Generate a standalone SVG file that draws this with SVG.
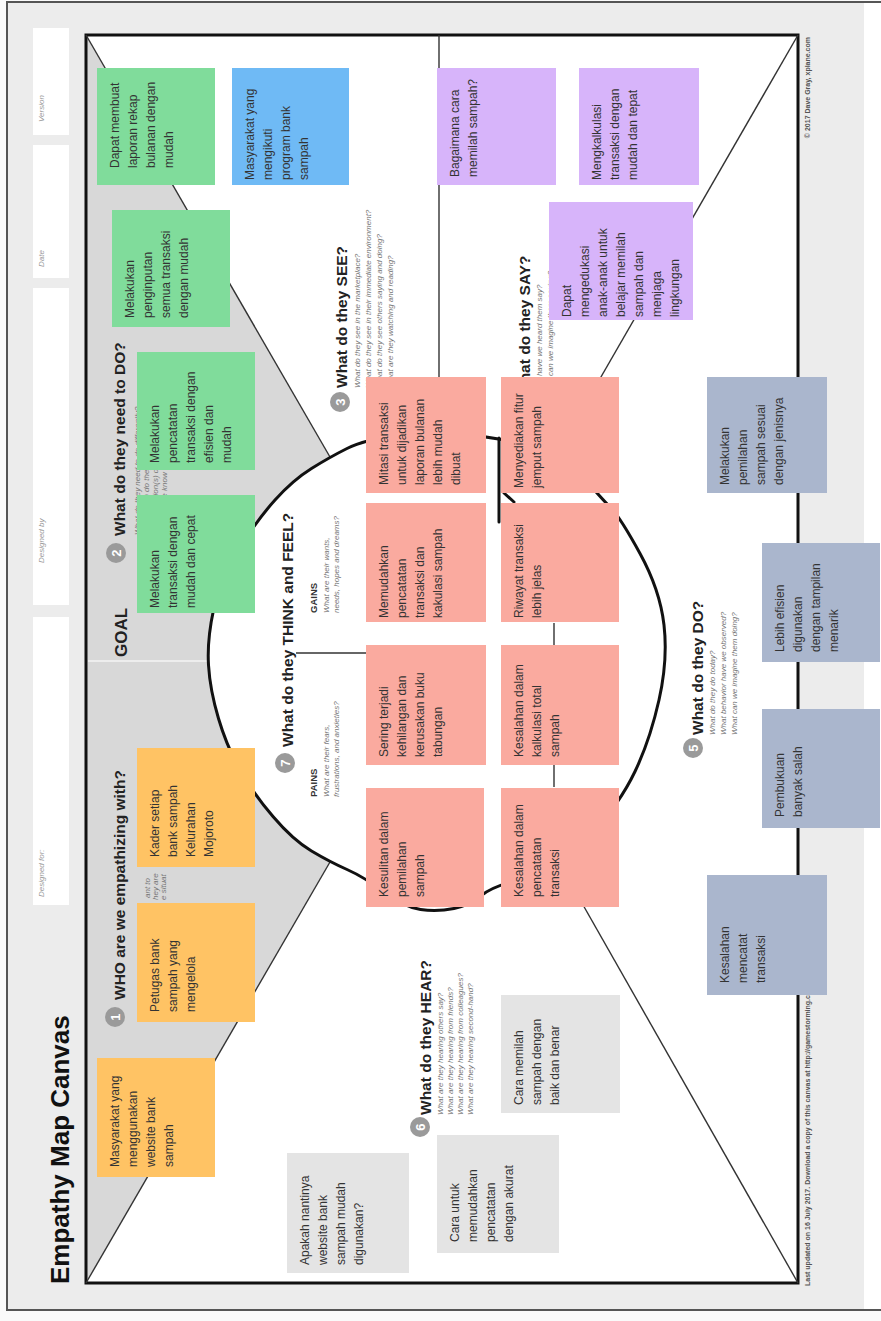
<svg xmlns="http://www.w3.org/2000/svg" width="881" height="1321" viewBox="0 0 881 1321">
<style>
.st{font-family:"Liberation Sans",Arial,sans-serif;font-size:12px;fill:#333}
.hd{font-family:"Liberation Sans",Arial,sans-serif;font-weight:bold;font-size:15.5px;fill:#222}
.sm{font-family:"Liberation Sans",Arial,sans-serif;font-style:italic;font-size:8px;fill:#777}
.lb{font-family:"Liberation Sans",Arial,sans-serif;font-style:italic;font-size:8px;fill:#999}
.pg{font-family:"Liberation Sans",Arial,sans-serif;font-weight:bold;font-size:9.5px;fill:#333}
.nc{fill:#9a9a9a}
.nt{font-family:"Liberation Sans",Arial,sans-serif;font-weight:bold;font-size:13px;fill:#fff;text-anchor:middle}
.ft{font-family:"Liberation Sans",Arial,sans-serif;font-weight:bold;font-size:7px;fill:#555}
.green{fill:#80dc9b}.blue{fill:#6fbaf5}.purple{fill:#d7b4fa}.orange{fill:#ffc364}.salmon{fill:#faaa9f}.slate{fill:#aab6cd}.grey{fill:#e4e4e4}
.thin{stroke:#333;stroke-width:1.4;fill:none}
.thick{stroke:#111;stroke-width:3;fill:none;stroke-linecap:round;stroke-linejoin:round}
</style>
<rect x="0" y="0" width="881" height="1321" fill="#fafafa"/>
<rect x="7" y="2" width="900" height="1308" fill="#fff" stroke="#555" stroke-width="2"/>
<rect x="8" y="3" width="856" height="1306" fill="#ececec"/>
<g transform="matrix(0 -1 1 0 0 1321)">
  <g id="header">
    <rect x="1186" y="33" width="107" height="36" fill="#fff"/>
    <rect x="1043" y="33" width="133" height="36" fill="#fff"/>
    <rect x="716" y="33" width="317" height="36" fill="#fff"/>
    <rect x="416" y="33" width="288" height="36" fill="#fff"/>
    <text class="lb" x="1199" y="44">Version</text>
    <text class="lb" x="1054" y="44">Date</text>
    <text class="lb" x="758" y="44">Designed by</text>
    <text class="lb" x="424" y="44">Designed for:</text>
    <text x="37" y="69" font-family="Liberation Sans, Arial, sans-serif" font-weight="bold" font-size="26" fill="#111">Empathy Map Canvas</text>
  </g>
  <g id="canvas">
    <rect x="38" y="86" width="1248" height="712" fill="#fff"/>
    <path d="M1286,86 L864,330 L852.5,311.5 Q841,293 821,275 Q801,257 771,238.5 Q741,220 711,213.5 Q681,207 656,208.5 Q631,210 602.5,218.5 Q574,227 551,240 Q528,253 504.5,273 Q481,293 470,311.5 L459,330 L38,86 Z" fill="#d8d8d8"/>
    <rect x="38" y="86" width="1248" height="712" fill="none" stroke="#111" stroke-width="3"/>
  </g>
  <g id="connectors">
    <line class="thin" x1="1286" y1="86" x2="864" y2="330"/>
    <line class="thin" x1="38" y1="86" x2="459" y2="330"/>
    <line class="thin" x1="1286" y1="798" x2="866" y2="556"/>
    <line class="thin" x1="38" y1="798" x2="453" y2="562"/>
    <line class="thin" x1="1286" y1="439" x2="893" y2="439"/>
    <line stroke="#f4f4f4" stroke-width="1.5" x1="660" y1="88" x2="660" y2="208"/>
    <line class="thin" x1="668" y1="296" x2="668" y2="366"/>
    <line class="thin" x1="534" y1="554" x2="698" y2="554"/>
    <path class="thick" d="M882,498.5 Q871,560 847,580.5 Q823,601 813.5,610.5 Q804,620 767.5,640 Q731,660 696,664 Q661,668 621,659 Q581,650 549.5,635 Q518,620 484.5,590 Q451,560 443,526 Q435,492 425.5,481.5 Q416,471 412.5,454 Q409,437 411.5,420.5 Q414,404 429,384 Q444,364 451.5,347 Q459,330 470,311.5 Q481,293 504.5,273 Q528,253 551,240 Q574,227 602.5,218.5 Q631,210 656,208.5 Q681,207 711,213.5 Q741,220 771,238.5 Q801,257 821,275 Q841,293 852.5,311.5 Q864,330 872.5,347 Q881,364 887,400.5 Q893,437 882,498.5 Z"/>
    <path class="thick" d="M883,499 L799,499"/>
    <path class="thick" d="M828,504 L819,514"/>
  </g>
  <g id="labels">
    <text x="664" y="127" font-family="Liberation Sans, Arial, sans-serif" font-weight="bold" font-size="17" fill="#222">GOAL</text>
    <circle class="nc" cx="304" cy="115" r="10"/><text class="nt" x="304" y="120">1</text>
    <text class="hd" x="321" y="125">WHO are we empathizing with?</text>
    <text class="sm" x="423" y="150">ant to</text>
    <text class="sm" x="421" y="158">hey are</text>
    <text class="sm" x="421" y="166">e situat</text>
    <circle class="nc" cx="768" cy="116" r="10"/><text class="nt" x="768" y="121">2</text>
    <text class="hd" x="785" y="125">What do they need to DO?</text>
    <text class="sm" x="786" y="140">What do they need to do differently?</text>
    <text class="sm" x="786" y="149">What job(s) do they want or need to get done?</text>
    <text class="sm" x="786" y="158">What decision(s) do they need to make?</text>
    <text class="sm" x="786" y="167">How will we know they were successful?</text>
    <circle class="nc" cx="919" cy="340" r="10"/><text class="nt" x="919" y="345">3</text>
    <text class="hd" x="933" y="347">What do they SEE?</text>
    <text class="sm" x="933" y="360">What do they see in the marketplace?</text>
    <text class="sm" x="933" y="371">What do they see in their immediate environment?</text>
    <text class="sm" x="933" y="382">What do they see others saying and doing?</text>
    <text class="sm" x="933" y="393">What are they watching and reading?</text>
    <circle class="nc" cx="905" cy="522" r="10"/><text class="nt" x="905" y="527">4</text>
    <text class="hd" x="924" y="530">What do they SAY?</text>
    <text class="sm" x="924" y="542">What have we heard them say?</text>
    <text class="sm" x="924" y="553">What can we imagine them saying?</text>
    <circle class="nc" cx="573" cy="693" r="10"/><text class="nt" x="573" y="698">5</text>
    <text class="hd" x="586" y="703">What do they DO?</text>
    <text class="sm" x="586" y="715">What do they do today?</text>
    <text class="sm" x="586" y="726">What behavior have we observed?</text>
    <text class="sm" x="586" y="737">What can we imagine them doing?</text>
    <circle class="nc" cx="194" cy="420" r="10"/><text class="nt" x="194" y="425">6</text>
    <text class="hd" x="206" y="431">What do they HEAR?</text>
    <text class="sm" x="206" y="443">What are they hearing others say?</text>
    <text class="sm" x="206" y="453">What are they hearing from friends?</text>
    <text class="sm" x="206" y="463">What are they hearing from colleagues?</text>
    <text class="sm" x="206" y="473">What are they hearing second-hand?</text>
    <circle class="nc" cx="558" cy="285" r="10"/><text class="nt" x="558" y="290">7</text>
    <text class="hd" x="574" y="293">What do they THINK and FEEL?</text>
    <text class="pg" x="524" y="317">PAINS</text>
    <text class="sm" x="524" y="329">What are their fears,</text>
    <text class="sm" x="524" y="339">frustrations, and anxieties?</text>
    <text class="pg" x="708" y="317">GAINS</text>
    <text class="sm" x="708" y="329">What are their wants,</text>
    <text class="sm" x="708" y="339">needs, hopes and dreams?</text>
    <text class="ft" x="35" y="810">Last updated on 16 July 2017. Download a copy of this canvas at http://gamestorming.com/empathy-map/</text>
    <text class="ft" x="1284" y="810" text-anchor="end">© 2017 Dave Gray, xplane.com</text>
  </g>
  <g id="g1"><rect class="green" x="1136" y="97" width="117" height="118"/><text class="st" x="1153" y="119"><tspan x="1153">Dapat membuat</tspan><tspan x="1153" dy="18">laporan rekap</tspan><tspan x="1153" dy="18">bulanan dengan</tspan><tspan x="1153" dy="18">mudah</tspan></text></g>
  <g id="g2"><rect class="green" x="994" y="112" width="117" height="118"/><text class="st" x="1003" y="134"><tspan x="1003">Melakukan</tspan><tspan x="1003" dy="18">penginputan</tspan><tspan x="1003" dy="18">semua transaksi</tspan><tspan x="1003" dy="18">dengan mudah</tspan></text></g>
  <g id="g3"><rect class="green" x="851" y="137" width="118" height="118"/><text class="st" x="858" y="159"><tspan x="858">Melakukan</tspan><tspan x="858" dy="18">pencatatan</tspan><tspan x="858" dy="18">transaksi dengan</tspan><tspan x="858" dy="18">efisien dan</tspan><tspan x="858" dy="18">mudah</tspan></text></g>
  <g id="g4"><rect class="green" x="708" y="137" width="118" height="118"/><text class="st" x="713" y="159"><tspan x="713">Melakukan</tspan><tspan x="713" dy="18">transaksi dengan</tspan><tspan x="713" dy="18">mudah dan cepat</tspan></text></g>
  <g id="b1"><rect class="blue" x="1136" y="232" width="117" height="117"/><text class="st" x="1141" y="254"><tspan x="1141">Masyarakat yang</tspan><tspan x="1141" dy="18">mengikuti</tspan><tspan x="1141" dy="18">program bank</tspan><tspan x="1141" dy="18">sampah</tspan></text></g>
  <g id="p1"><rect class="purple" x="1136" y="437" width="117" height="119"/><text class="st" x="1144" y="459"><tspan x="1144">Bagaimana cara</tspan><tspan x="1144" dy="18">memilah sampah?</tspan></text></g>
  <g id="p2"><rect class="purple" x="1136" y="579" width="117" height="120"/><text class="st" x="1141" y="601"><tspan x="1141">Mengkalkulasi</tspan><tspan x="1141" dy="18">transaksi dengan</tspan><tspan x="1141" dy="18">mudah dan tepat</tspan></text></g>
  <g id="p3"><rect class="purple" x="1001" y="549" width="118" height="144"/><text class="st" x="1004" y="571"><tspan x="1004">Dapat</tspan><tspan x="1004" dy="18">mengedukasi</tspan><tspan x="1004" dy="18">anak-anak untuk</tspan><tspan x="1004" dy="18">belajar memilah</tspan><tspan x="1004" dy="18">sampah dan</tspan><tspan x="1004" dy="18">menjaga</tspan><tspan x="1004" dy="18">lingkungan</tspan></text></g>
  <g id="o1"><rect class="orange" x="144" y="97" width="119" height="118"/><text class="st" x="154" y="119"><tspan x="154">Masyarakat yang</tspan><tspan x="154" dy="18">menggunakan</tspan><tspan x="154" dy="18">website bank</tspan><tspan x="154" dy="18">sampah</tspan></text></g>
  <g id="o2"><rect class="orange" x="299" y="137" width="119" height="118"/><text class="st" x="309" y="159"><tspan x="309">Petugas bank</tspan><tspan x="309" dy="18">sampah yang</tspan><tspan x="309" dy="18">mengelola</tspan></text></g>
  <g id="o3"><rect class="orange" x="454" y="137" width="119" height="118"/><text class="st" x="464" y="159"><tspan x="464">Kader setiap</tspan><tspan x="464" dy="18">bank sampah</tspan><tspan x="464" dy="18">Kelurahan</tspan><tspan x="464" dy="18">Mojoroto</tspan></text></g>
  <g id="r1"><rect class="salmon" x="828" y="366" width="116" height="120"/><text class="st" x="836" y="388"><tspan x="836">Mitasi transaksi</tspan><tspan x="836" dy="18">untuk dijadikan</tspan><tspan x="836" dy="18">laporan bulanan</tspan><tspan x="836" dy="18">lebih mudah</tspan><tspan x="836" dy="18">dibuat</tspan></text></g>
  <g id="r2"><rect class="salmon" x="699" y="366" width="119" height="120"/><text class="st" x="703" y="388"><tspan x="703">Memudahkan</tspan><tspan x="703" dy="18">pencatatan</tspan><tspan x="703" dy="18">transaksi dan</tspan><tspan x="703" dy="18">kakulasi sampah</tspan></text></g>
  <g id="r3"><rect class="salmon" x="556" y="366" width="120" height="120"/><text class="st" x="564" y="388"><tspan x="564">Sering terjadi</tspan><tspan x="564" dy="18">kehilangan dan</tspan><tspan x="564" dy="18">kerusakan buku</tspan><tspan x="564" dy="18">tabungan</tspan></text></g>
  <g id="r4"><rect class="salmon" x="414" y="366" width="119" height="118"/><text class="st" x="424" y="388"><tspan x="424">Kesulitan dalam</tspan><tspan x="424" dy="18">pemilahan</tspan><tspan x="424" dy="18">sampah</tspan></text></g>
  <g id="r5"><rect class="salmon" x="828" y="501" width="116" height="118"/><text class="st" x="833" y="523"><tspan x="833">Menyediakan fitur</tspan><tspan x="833" dy="18">jemput sampah</tspan></text></g>
  <g id="r6"><rect class="salmon" x="699" y="501" width="119" height="118"/><text class="st" x="703" y="523"><tspan x="703">Riwayat transaksi</tspan><tspan x="703" dy="18">lebih jelas</tspan></text></g>
  <g id="r7"><rect class="salmon" x="556" y="501" width="120" height="118"/><text class="st" x="564" y="523"><tspan x="564">Kesalahan dalam</tspan><tspan x="564" dy="18">kalkulasi total</tspan><tspan x="564" dy="18">sampah</tspan></text></g>
  <g id="r8"><rect class="salmon" x="414" y="501" width="119" height="118"/><text class="st" x="424" y="523"><tspan x="424">Kesalahan dalam</tspan><tspan x="424" dy="18">pencatatan</tspan><tspan x="424" dy="18">transaksi</tspan></text></g>
  <g id="s1"><rect class="slate" x="828" y="707" width="116" height="120"/><text class="st" x="836" y="729"><tspan x="836">Melakukan</tspan><tspan x="836" dy="18">pemilahan</tspan><tspan x="836" dy="18">sampah sesuai</tspan><tspan x="836" dy="18">dengan jenisnya</tspan></text></g>
  <g id="s2"><rect class="slate" x="659" y="762" width="119" height="118"/><text class="st" x="669" y="784"><tspan x="669">Lebih efisien</tspan><tspan x="669" dy="18">digunakan</tspan><tspan x="669" dy="18">dengan tampilan</tspan><tspan x="669" dy="18">menarik</tspan></text></g>
  <g id="s3"><rect class="slate" x="493" y="762" width="119" height="118"/><text class="st" x="504" y="784"><tspan x="504">Pembukuan</tspan><tspan x="504" dy="18">banyak salah</tspan></text></g>
  <g id="s4"><rect class="slate" x="326" y="707" width="120" height="120"/><text class="st" x="338" y="729"><tspan x="338">Kesalahan</tspan><tspan x="338" dy="18">mencatat</tspan><tspan x="338" dy="18">transaksi</tspan></text></g>
  <g id="h1"><rect class="grey" x="48" y="287" width="120" height="122"/><text class="st" x="56" y="309"><tspan x="56">Apakah nantinya</tspan><tspan x="56" dy="18">website bank</tspan><tspan x="56" dy="18">sampah mudah</tspan><tspan x="56" dy="18">digunakan?</tspan></text></g>
  <g id="h2"><rect class="grey" x="68" y="437" width="118" height="122"/><text class="st" x="79" y="459"><tspan x="79">Cara untuk</tspan><tspan x="79" dy="18">memudahkan</tspan><tspan x="79" dy="18">pencatatan</tspan><tspan x="79" dy="18">dengan akurat</tspan></text></g>
  <g id="h3"><rect class="grey" x="208" y="501" width="118" height="119"/><text class="st" x="216" y="523"><tspan x="216">Cara memilah</tspan><tspan x="216" dy="18">sampah dengan</tspan><tspan x="216" dy="18">baik dan benar</tspan></text></g>
</g>
</svg>
